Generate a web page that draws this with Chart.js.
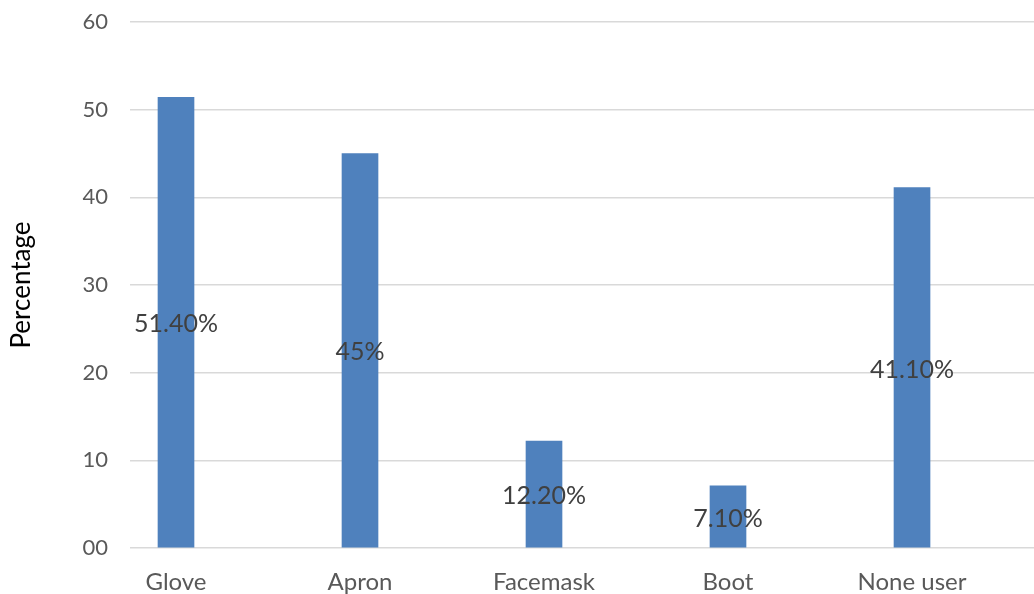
<!DOCTYPE html>
<html>
<head>
<meta charset="utf-8">
<script src="https://cdn.jsdelivr.net/npm/chart.js@4/dist/chart.umd.min.js"></script>
<style>
html,body{margin:0;padding:0;background:#fff;}
canvas{display:block;}
</style>
</head>
<body>
<canvas id="c" width="1034" height="594"></canvas>
<script>
const categories = ["Glove", "Apron", "Facemask", "Boot", "None user"];
const values = [51.4, 45, 12.2, 7.1, 41.1];
const dataLabels = ["51.40%", "45%", "12.20%", "7.10%", "41.10%"];
const yTickValues = [0, 10, 20, 30, 40, 50, 60];
const yTickLabels = ["00", "10", "20", "30", "40", "50", "60"];
const yAxisTitle = "Percentage";

const FONT = "Lato, 'Open Sans', sans-serif";

const barLabelPlugin = {
  id: 'barLabels',
  afterDatasetsDraw(chart) {
    const ctx = chart.ctx;
    const meta = chart.getDatasetMeta(0);
    ctx.save();
    ctx.font = "25px " + FONT;
    ctx.fillStyle = "#404040";
    ctx.textAlign = "center";
    ctx.textBaseline = "middle";
    meta.data.forEach((bar, i) => {
      const cy = (bar.y + bar.base) / 2;
      ctx.fillText(dataLabels[i], bar.x, cy + 2);
    });
    ctx.restore();
  }
};

new Chart(document.getElementById('c'), {
  type: 'bar',
  data: {
    datasets: [{
      data: categories.map((c, i) => ({x: i, y: values[i]})),
      backgroundColor: '#4f81bd',
      borderWidth: 0,
      barThickness: 36
    }]
  },
  options: {
    responsive: false,
    animation: false,
    events: [],
    layout: {padding: {top: 22, right: 0, bottom: 0, left: 0}},
    plugins: {legend: {display: false}, tooltip: {enabled: false}},
    scales: {
      x: {
        type: 'linear',
        offset: false,
        min: -0.25,
        max: 4.663,
        afterBuildTicks: (s) => { s.ticks = categories.map((c, i) => ({value: i})); },
        afterFit: (s) => { s.height = 46; s.paddingLeft = 0; s.paddingRight = 0; },
        grid: {display: false, drawTicks: false},
        border: {display: false},
        ticks: {
          autoSkip: false,
          maxRotation: 0,
          padding: 20,
          color: '#595959',
          font: {family: FONT, size: 24},
          callback: (v) => categories[v] ?? ''
        }
      },
      y: {
        min: 0,
        max: 60,
        afterBuildTicks: (s) => { s.ticks = yTickValues.map(v => ({value: v})); },
        afterFit: (s) => { s.width = 130; s.paddingTop = 0; s.paddingBottom = 0; },
        grid: {color: '#d9d9d9', lineWidth: 1.5, drawTicks: false},
        border: {display: false},
        ticks: {
          padding: 22,
          color: '#595959',
          font: {family: FONT, size: 22},
          callback: (v) => yTickLabels[yTickValues.indexOf(v)]
        },
        title: {
          display: true,
          text: yAxisTitle,
          color: '#000000',
          font: {family: FONT, size: 26},
          padding: {top: 6, bottom: 0}
        }
      }
    }
  },
  plugins: [barLabelPlugin]
});
</script>
</body>
</html>
